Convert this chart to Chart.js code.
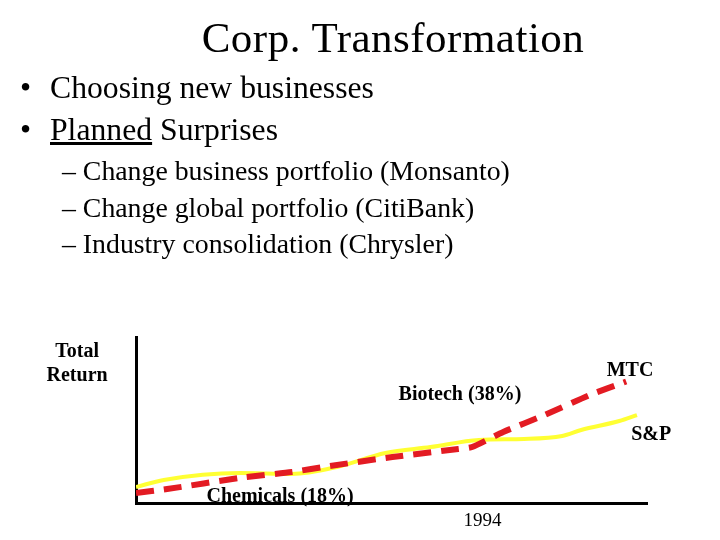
<!DOCTYPE html>
<html>
<head>
<meta charset="utf-8">
<script src="https://cdn.jsdelivr.net/npm/chart.js@4"></script>
<style>
  body { margin: 0; background: #fff; }
  #wrap { position: relative; width: 720px; height: 540px; overflow: hidden; font-family: "Liberation Serif", "Times New Roman", serif; color: #000; }
  #wrap canvas { position: absolute; left: 0; top: 0; }
  .t { position: absolute; white-space: nowrap; line-height: 1; }
  .title { font-size: 43px; left: 0; width: 786px; text-align: center; top: 16px; letter-spacing: 0.5px; }
  .b1 { font-size: 31.7px; }
  .b2 { font-size: 27.8px; }
</style>
</head>
<body>
<div id="wrap">
  <canvas id="returnChart" width="720" height="540"></canvas>
  <div class="t title">Corp. Transformation</div>
  <div class="t b1" style="left:20px; top:72px;">•</div>
  <div class="t b1" style="left:50px; top:72px;">Choosing new businesses</div>
  <div class="t b1" style="left:20px; top:114px;">•</div>
  <div class="t b1" style="left:50px; top:114px;"><u>Planned</u> Surprises</div>
  <div class="t b2" style="left:62px; top:157px;">– Change business portfolio (Monsanto)</div>
  <div class="t b2" style="left:62px; top:194px;">– Change global portfolio (CitiBank)</div>
  <div class="t b2" style="left:62px; top:230px;">– Industry consolidation (Chrysler)</div>
</div>
<script>
// Données (axe x en années, axe y en rendement relatif 0-100)
const spYears = [1984.0, 1984.8, 1987.0, 1988.5, 1989.8, 1991.2, 1992.5, 1993.9, 1995.2, 1996.3, 1996.85, 1997.95, 1998.46];
const spValues = [9.6, 13.9, 18.1, 17.5, 21.7, 30.1, 33.7, 38.0, 38.6, 40.4, 44.0, 49.4, 53.0];

const mtcYears = [1984.0, 1984.9, 1987.0, 1988.5, 1989.6, 1991.4, 1993.3, 1993.7, 1994.6, 1995.8, 1997.1, 1998.15];
const mtcValues = [6.0, 8.4, 15.1, 18.7, 22.3, 27.7, 32.5, 33.7, 42.8, 53.0, 65.1, 73.2];

const xTickLabels = [1994];

// Étiquettes du graphique, ancrées en coordonnées de données
const noteTexts = ['Total', 'Return', 'MTC', 'S&P', 'Biotech (38%)', 'Chemicals (18%)'];
const noteX = [1982.3, 1982.3, 1998.26, 1998.87, 1993.35, 1988.16];
const noteY = [91.0, 76.5, 79.5, 41.0, 65.1, 3.6];

const toPoints = (xs, ys) => xs.map((x, i) => ({ x: x, y: ys[i] }));

const notesPlugin = {
    id: 'notes',
    afterDraw(chart) {
        const ctx = chart.ctx;
        const sx = chart.scales.x;
        const sy = chart.scales.y;
        ctx.save();
        ctx.fillStyle = '#000';
        ctx.textAlign = 'center';
        ctx.textBaseline = 'middle';
        ctx.font = 'bold 20px "Liberation Serif", serif';
        noteTexts.forEach((txt, i) => {
            ctx.fillText(txt, sx.getPixelForValue(noteX[i]), sy.getPixelForValue(noteY[i]));
        });
        // étiquette de l'axe x (1994)
        ctx.font = '19px "Liberation Serif", serif';
        xTickLabels.forEach(v => {
            ctx.fillText(String(v), sx.getPixelForValue(v), sy.bottom + 18);
        });
        ctx.restore();
    }
};

document.addEventListener('DOMContentLoaded', () => {
    const el = document.getElementById('returnChart');
    new Chart(el, {
        type: 'line',
        data: {
            datasets: [{
                label: 'MTC',
                data: toPoints(mtcYears, mtcValues),
                borderColor: '#e31b23',
                borderWidth: 6,
                borderDash: [18, 10],
                tension: 0.2,
                pointRadius: 0,
                fill: false
            }, {
                label: 'S&P',
                data: toPoints(spYears, spValues),
                borderColor: '#ffff33',
                borderWidth: 4,
                cubicInterpolationMode: 'monotone',
                pointRadius: 0,
                fill: false
            }]
        },
        options: {
            responsive: false,
            animation: false,
            layout: { padding: { left: 136, top: 337, right: 73, bottom: 37 } },
            scales: {
                x: {
                    type: 'linear',
                    min: 1984,
                    max: 1998.75,
                    grid: { display: false, drawTicks: false },
                    border: { display: true, color: '#000', width: 3 },
                    ticks: { display: false },
                    afterFit: (scale) => { scale.height = 0; }
                },
                y: {
                    min: 0,
                    max: 100,
                    grid: { display: false, drawTicks: false },
                    border: { display: true, color: '#000', width: 3 },
                    ticks: { display: false },
                    afterFit: (scale) => { scale.width = 0; }
                }
            },
            plugins: {
                legend: { display: false },
                tooltip: { enabled: false }
            }
        },
        plugins: [notesPlugin]
    });
});
</script>
</body>
</html>
